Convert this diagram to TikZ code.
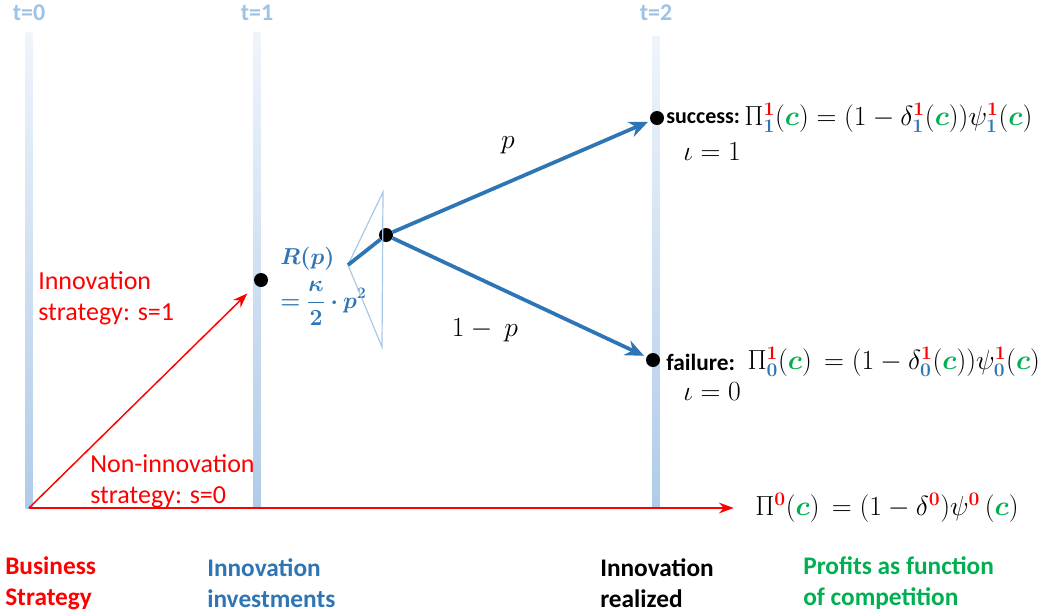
\documentclass[tikz,border=0pt]{standalone}
\usepackage[no-math]{fontspec}
\setmainfont{Carlito}
\usepackage{bm}
\usetikzlibrary{positioning,arrows.meta}
\definecolor{stratred}{HTML}{FF0000}
\definecolor{invblue}{HTML}{2E75B6}
\definecolor{compgreen}{HTML}{00B050}
\definecolor{barblue}{HTML}{B0CBE9}
\definecolor{timeblue}{HTML}{9DC3E6}
\definecolor{triblue}{HTML}{A9C8E8}
\tikzset{
  dot/.style={circle,fill=black,inner sep=0pt,minimum size=10.5pt},
  redline/.style={stratred,line width=1.1pt,-{Stealth[length=11pt,width=8pt]}},
  blueline/.style={invblue,line width=2.8pt},
  bluearrow/.style={blueline,-{Stealth[length=14pt,width=12pt]},shorten >=2pt},
  txt/.style={inner sep=0pt,font=\fontsize{18}{23}\selectfont},
  redtxt/.style={txt,stratred,align=left,font=\fontsize{19.5}{23}\selectfont},
  mathtxt/.style={inner sep=0pt,font=\fontsize{22}{26}\selectfont},
  boldtxt/.style={txt,font=\fontsize{18}{23}\selectfont\bfseries},
  captxt/.style={txt,align=left,font=\fontsize{19}{23.5}\selectfont\bfseries},
  timelabel/.style={boldtxt,timeblue},
}
\newcommand*{\rsup}[1]{\textcolor{stratred}{\mathbf{#1}}}
\newcommand*{\bsub}[1]{\textcolor{invblue}{\mathbf{#1}}}
\newcommand*{\gc}{\textcolor{compgreen}{\bm{c}}}

\begin{document}
\begin{tikzpicture}[x=0.75pt,y=-0.75pt]
\useasboundingbox (0,0) rectangle (1050,615);

% Time bars
\foreach \x/\t/\top in {29/0/32,257/1/32,656/2/36}{
  \shade[top color=barblue!20,bottom color=barblue] (\x-3.5,\top) rectangle (\x+3.5,508);
  \node[timelabel] (t\t) at (\x,13) {t=\t};
}

% Decision points
\coordinate (O) at (29,508);
\node[dot] (inv) at (261,280) {};
\node[dot] (split) at (386,235) {};
\node[dot] (succ) at (657,118) {};
\node[dot] (fail) at (653,360) {};

% Strategy choice
\node[redtxt,anchor=west] (innov) at (38,298) {Innovation\\strategy: s=1};
\node[redtxt,anchor=west] (noninnov) at (90,481) {Non-innovation\\strategy: s=0};
\node[mathtxt,anchor=west] (pinon) at (755,508)
  {$\Pi^{\rsup{0}}(\gc) \,= \big(1-\delta^{\rsup{0}}\big)\psi^{\rsup{0}}\,(\gc)$};
\draw[redline,shorten >=9pt] (O) -- (inv);
\draw[redline,shorten >=16pt] (O) -- (pinon.west);

% Investment
\node[txt,invblue,align=left,anchor=north west] (cost) at (280,247)
  {$\bm{R(p)}$\\[7pt]$\displaystyle\bm{=\frac{\kappa}{2}\cdot p^2}$};
\draw[triblue,line width=0.9pt] (383,192) coordinate (tritop)
  -- (348,265) coordinate (trileft) -- (382,347) coordinate (tribot) -- cycle;
\draw[blueline] (trileft) -- (split);
\draw[bluearrow] (split) -- (succ);
\draw[bluearrow] (split) -- (fail);
\node[txt,font=\fontsize{20}{24}\selectfont] (pl) at (508,145) {$p$};
\node[txt,font=\fontsize{20}{24}\selectfont] (ql) at (485,330) {$1-\ p$};

% Outcomes
\node[boldtxt,anchor=west,font=\fontsize{16.5}{20}\selectfont\bfseries] (sl) at (666,118) {success:};
\node[mathtxt,anchor=west] (sf) at ([xshift=3pt]sl.east)
  {$\Pi^{\rsup{1}}_{\bsub{1}}(\gc) = \big(1-\delta^{\rsup{1}}_{\bsub{1}}(\gc)\big)\psi^{\rsup{1}}_{\bsub{1}}(\gc)$};
\node[txt,anchor=west,font=\fontsize{20}{24}\selectfont] (si) at (683,152) {$\iota = 1$};
\node[boldtxt,anchor=west,font=\fontsize{17.5}{21}\selectfont\bfseries] (fl) at (666,362) {failure:};
\node[mathtxt,anchor=west] (ff) at ([xshift=9pt]fl.east)
  {$\Pi^{\rsup{1}}_{\bsub{0}}(\gc) \,= \big(1-\delta^{\rsup{1}}_{\bsub{0}}(\gc)\big)\psi^{\rsup{1}}_{\bsub{0}}(\gc)$};
\node[txt,anchor=west,font=\fontsize{20}{24}\selectfont] (fi) at (683,392) {$\iota = 0$};

% Stage captions
\node[captxt,stratred,anchor=west] (cap0) at (5,583) {Business\\Strategy};
\node[captxt,invblue,anchor=west] (cap1) at (207,583) {Innovation\\investments};
\node[captxt,anchor=west] (cap2) at (600,583) {Innovation\\realized};
\node[captxt,compgreen,anchor=west] (cap3) at (803,583) {Profits as function\\of competition};

\end{tikzpicture}
\end{document}
